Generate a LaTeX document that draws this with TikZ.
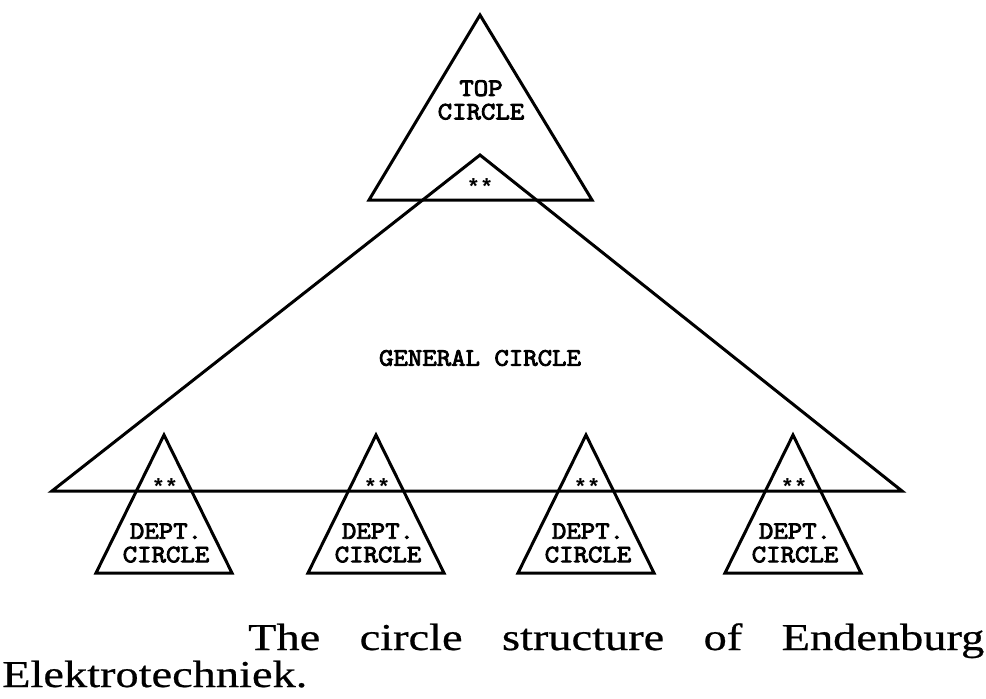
\documentclass[tikz,border=0pt]{standalone}
\usepackage{fontspec}
\setmainfont{Liberation Serif}
\newfontfamily\twfont{Latin Modern Mono}[FakeStretch=1.12,FakeBold=3.5]
\newfontfamily\starfont{Liberation Mono}
\newfontfamily\capfont{Liberation Serif}[FakeStretch=1.22,FakeBold=0.6]
\begin{document}
\begin{tikzpicture}[x=1pt,y=-1pt,
    tri/.style={draw=black,line width=3pt,line join=miter},
    label/.style={inner sep=0pt,align=center,
      font=\twfont\fontsize{25}{23.5}\selectfont},
    stars/.style={inner sep=0pt,anchor=base,
      font=\starfont\bfseries\fontsize{22}{22}\selectfont},
    captext/.style={inner sep=0pt,anchor=base west,
      font=\capfont\fontsize{38}{44}\selectfont}]
  \useasboundingbox (0,0) rectangle (986,699);

  % top circle
  \coordinate (topA) at (480,15);
  \coordinate (topL) at (369,200);
  \coordinate (topR) at (592,200);
  \draw[tri] (topA) -- (topL) -- (topR) -- cycle;
  \node[label] (toptxt) at (481,100) {TOP\\CIRCLE};

  % general circle, its tip sitting inside the top circle
  \coordinate (genA) at (480,155);
  \coordinate (genL) at (52,491);
  \coordinate (genR) at (902,491);
  \draw[tri] (genA) -- (genL) -- (genR) -- cycle;
  \node[stars] (genstars) at (480,194) {**};
  \node[label] (gentxt) at (480,358) {GENERAL CIRCLE};

  % department circles, their tips sitting inside the general circle
  \foreach \cx/\nm in {164/d1,376/d2,586/d3,793/d4}{
    \coordinate (\nm A) at (\cx,435);
    \coordinate (\nm L) at (\cx-68,573);
    \coordinate (\nm R) at (\cx+68,573);
    \draw[tri] (\nm A) -- (\nm L) -- (\nm R) -- cycle;
    \node[stars] (\nm stars) at (\cx+1,494) {**};
    \node[label] (\nm txt) at (\cx+2,543) {DEPT.\\CIRCLE};
  }

  % caption
  \node[captext] (cap1) at (248,650)
    {\makebox[736pt][s]{The circle structure of Endenburg}};
  \node[captext] (cap2) at (2,687) {Elektrotechniek.};
\end{tikzpicture}
\end{document}
